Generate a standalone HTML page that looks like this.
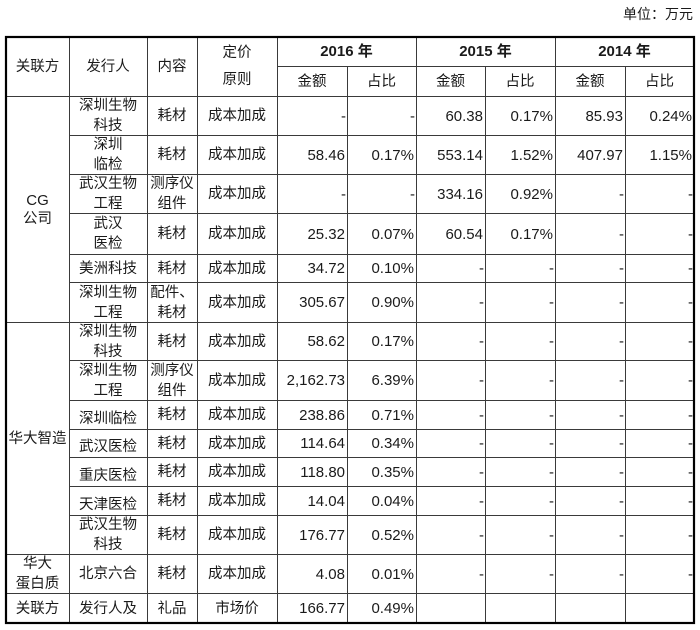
<!DOCTYPE html>
<html><head><meta charset="utf-8">
<style>
html,body{margin:0;padding:0;background:#fff;}
#w{position:relative;width:700px;height:630px;overflow:hidden;background:#fff;font-family:"Liberation Sans","Noto Sans CJK SC",sans-serif;color:#1a1a1a;}
.c{position:absolute;display:flex;align-items:center;justify-content:center;text-align:center;line-height:20px;font-size:14.5px;box-sizing:border-box;padding-top:1px;white-space:nowrap;}
.n{justify-content:flex-end;padding-right:2px;font-size:15px;padding-top:2px;}
.d{justify-content:flex-end;padding-right:1px;font-size:15px;padding-top:2px;}
.b{font-weight:bold;font-size:15px;}
.lo{padding-top:8px;}
svg{position:absolute;left:0;top:0;}
</style></head><body><div id="w">
<div class="c" style="left:600px;top:3px;width:93px;height:20px;justify-content:flex-end;font-size:14px;">单位：万元</div>

<svg width="700" height="630">
<g stroke="#3a3a3a" stroke-width="1" fill="none">
<line x1="69.5" y1="37" x2="69.5" y2="623"/>
<line x1="147.5" y1="37" x2="147.5" y2="623"/>
<line x1="197.5" y1="37" x2="197.5" y2="623"/>
<line x1="277.5" y1="37" x2="277.5" y2="623"/>
<line x1="347.5" y1="66" x2="347.5" y2="623"/>
<line x1="416.5" y1="37" x2="416.5" y2="623"/>
<line x1="485.5" y1="66" x2="485.5" y2="623"/>
<line x1="555.5" y1="37" x2="555.5" y2="623"/>
<line x1="625.5" y1="66" x2="625.5" y2="623"/>
<line x1="277" y1="66.5" x2="694" y2="66.5"/>
<line x1="6" y1="96.5" x2="694" y2="96.5"/>
<line x1="69" y1="135.5" x2="694" y2="135.5"/>
<line x1="69" y1="174.5" x2="694" y2="174.5"/>
<line x1="69" y1="213.5" x2="694" y2="213.5"/>
<line x1="69" y1="254.5" x2="694" y2="254.5"/>
<line x1="69" y1="282.5" x2="694" y2="282.5"/>
<line x1="6" y1="322.5" x2="694" y2="322.5"/>
<line x1="69" y1="360.5" x2="694" y2="360.5"/>
<line x1="69" y1="400.5" x2="694" y2="400.5"/>
<line x1="69" y1="429.5" x2="694" y2="429.5"/>
<line x1="69" y1="457.5" x2="694" y2="457.5"/>
<line x1="69" y1="486.5" x2="694" y2="486.5"/>
<line x1="69" y1="515.5" x2="694" y2="515.5"/>
<line x1="6" y1="554.5" x2="694" y2="554.5"/>
<line x1="6" y1="593.5" x2="694" y2="593.5"/>
</g>
<rect x="6" y="37" width="688" height="586" stroke="#000" stroke-width="2.2" fill="none"/>
</svg>

<!-- header -->
<div class="c" style="left:6px;top:37px;width:63px;height:59px;">关联方</div>
<div class="c" style="left:69px;top:37px;width:78px;height:59px;">发行人</div>
<div class="c" style="left:147px;top:37px;width:50px;height:59px;">内容</div>
<div class="c" style="left:197px;top:37px;width:80px;height:59px;line-height:27px;">定价<br>原则</div>
<div class="c b" style="left:277px;top:37px;width:139px;height:29px;">2016 年</div>
<div class="c b" style="left:416px;top:37px;width:139px;height:29px;">2015 年</div>
<div class="c b" style="left:555px;top:37px;width:139px;height:29px;">2014 年</div>
<div class="c" style="left:277px;top:66px;width:70px;height:30px;">金额</div>
<div class="c" style="left:347px;top:66px;width:69px;height:30px;">占比</div>
<div class="c" style="left:416px;top:66px;width:69px;height:30px;">金额</div>
<div class="c" style="left:485px;top:66px;width:70px;height:30px;">占比</div>
<div class="c" style="left:555px;top:66px;width:70px;height:30px;">金额</div>
<div class="c" style="left:625px;top:66px;width:69px;height:30px;">占比</div>

<!-- group labels -->
<div class="c" style="left:6px;top:96px;width:63px;height:226px;line-height:18px;"><span><span style="font-size:15px;">CG</span><br>公司</span></div>
<div class="c" style="left:6px;top:322px;width:63px;height:232px;">华大智造</div>
<div class="c" style="left:6px;top:554px;width:63px;height:39px;">华大<br>蛋白质</div>
<div class="c" style="left:6px;top:593px;width:63px;height:30px;">关联方</div>

<!-- r0 96-135 -->
<div class="c" style="left:69px;top:96px;width:78px;height:39px;">深圳生物<br>科技</div>
<div class="c" style="left:147px;top:96px;width:50px;height:39px;">耗材</div>
<div class="c" style="left:197px;top:96px;width:80px;height:39px;">成本加成</div>
<div class="c d" style="left:277px;top:96px;width:70px;height:39px;">-</div>
<div class="c d" style="left:347px;top:96px;width:69px;height:39px;">-</div>
<div class="c n" style="left:416px;top:96px;width:69px;height:39px;">60.38</div>
<div class="c n" style="left:485px;top:96px;width:70px;height:39px;">0.17%</div>
<div class="c n" style="left:555px;top:96px;width:70px;height:39px;">85.93</div>
<div class="c n" style="left:625px;top:96px;width:69px;height:39px;">0.24%</div>

<!-- r1 135-174 -->
<div class="c" style="left:69px;top:135px;width:78px;height:39px;">深圳<br>临检</div>
<div class="c" style="left:147px;top:135px;width:50px;height:39px;">耗材</div>
<div class="c" style="left:197px;top:135px;width:80px;height:39px;">成本加成</div>
<div class="c n" style="left:277px;top:135px;width:70px;height:39px;">58.46</div>
<div class="c n" style="left:347px;top:135px;width:69px;height:39px;">0.17%</div>
<div class="c n" style="left:416px;top:135px;width:69px;height:39px;">553.14</div>
<div class="c n" style="left:485px;top:135px;width:70px;height:39px;">1.52%</div>
<div class="c n" style="left:555px;top:135px;width:70px;height:39px;">407.97</div>
<div class="c n" style="left:625px;top:135px;width:69px;height:39px;">1.15%</div>

<!-- r2 174-213 -->
<div class="c" style="left:69px;top:174px;width:78px;height:39px;">武汉生物<br>工程</div>
<div class="c" style="left:147px;top:174px;width:50px;height:39px;">测序仪<br>组件</div>
<div class="c" style="left:197px;top:174px;width:80px;height:39px;">成本加成</div>
<div class="c d" style="left:277px;top:174px;width:70px;height:39px;">-</div>
<div class="c d" style="left:347px;top:174px;width:69px;height:39px;">-</div>
<div class="c n" style="left:416px;top:174px;width:69px;height:39px;">334.16</div>
<div class="c n" style="left:485px;top:174px;width:70px;height:39px;">0.92%</div>
<div class="c d" style="left:555px;top:174px;width:70px;height:39px;">-</div>
<div class="c d" style="left:625px;top:174px;width:69px;height:39px;">-</div>

<!-- r3 213-254 -->
<div class="c" style="left:69px;top:213px;width:78px;height:41px;">武汉<br>医检</div>
<div class="c" style="left:147px;top:213px;width:50px;height:41px;">耗材</div>
<div class="c" style="left:197px;top:213px;width:80px;height:41px;">成本加成</div>
<div class="c n" style="left:277px;top:213px;width:70px;height:41px;">25.32</div>
<div class="c n" style="left:347px;top:213px;width:69px;height:41px;">0.07%</div>
<div class="c n" style="left:416px;top:213px;width:69px;height:41px;">60.54</div>
<div class="c n" style="left:485px;top:213px;width:70px;height:41px;">0.17%</div>
<div class="c d" style="left:555px;top:213px;width:70px;height:41px;">-</div>
<div class="c d" style="left:625px;top:213px;width:69px;height:41px;">-</div>

<!-- r4 254-282 -->
<div class="c" style="left:69px;top:254px;width:78px;height:28px;">美洲科技</div>
<div class="c" style="left:147px;top:254px;width:50px;height:28px;">耗材</div>
<div class="c" style="left:197px;top:254px;width:80px;height:28px;">成本加成</div>
<div class="c n" style="left:277px;top:254px;width:70px;height:28px;">34.72</div>
<div class="c n" style="left:347px;top:254px;width:69px;height:28px;">0.10%</div>
<div class="c d" style="left:416px;top:254px;width:69px;height:28px;">-</div>
<div class="c d" style="left:485px;top:254px;width:70px;height:28px;">-</div>
<div class="c d" style="left:555px;top:254px;width:70px;height:28px;">-</div>
<div class="c d" style="left:625px;top:254px;width:69px;height:28px;">-</div>

<!-- r5 282-322 -->
<div class="c" style="left:69px;top:282px;width:78px;height:40px;">深圳生物<br>工程</div>
<div class="c" style="left:147px;top:282px;width:50px;height:40px;">配件、<br>耗材</div>
<div class="c" style="left:197px;top:282px;width:80px;height:40px;">成本加成</div>
<div class="c n" style="left:277px;top:282px;width:70px;height:40px;">305.67</div>
<div class="c n" style="left:347px;top:282px;width:69px;height:40px;">0.90%</div>
<div class="c d" style="left:416px;top:282px;width:69px;height:40px;">-</div>
<div class="c d" style="left:485px;top:282px;width:70px;height:40px;">-</div>
<div class="c d" style="left:555px;top:282px;width:70px;height:40px;">-</div>
<div class="c d" style="left:625px;top:282px;width:69px;height:40px;">-</div>

<!-- r6 322-360 -->
<div class="c" style="left:69px;top:322px;width:78px;height:38px;">深圳生物<br>科技</div>
<div class="c" style="left:147px;top:322px;width:50px;height:38px;">耗材</div>
<div class="c" style="left:197px;top:322px;width:80px;height:38px;">成本加成</div>
<div class="c n" style="left:277px;top:322px;width:70px;height:38px;">58.62</div>
<div class="c n" style="left:347px;top:322px;width:69px;height:38px;">0.17%</div>
<div class="c d" style="left:416px;top:322px;width:69px;height:38px;">-</div>
<div class="c d" style="left:485px;top:322px;width:70px;height:38px;">-</div>
<div class="c d" style="left:555px;top:322px;width:70px;height:38px;">-</div>
<div class="c d" style="left:625px;top:322px;width:69px;height:38px;">-</div>

<!-- r7 360-400 -->
<div class="c" style="left:69px;top:360px;width:78px;height:40px;">深圳生物<br>工程</div>
<div class="c" style="left:147px;top:360px;width:50px;height:40px;">测序仪<br>组件</div>
<div class="c" style="left:197px;top:360px;width:80px;height:40px;">成本加成</div>
<div class="c n" style="left:277px;top:360px;width:70px;height:40px;">2,162.73</div>
<div class="c n" style="left:347px;top:360px;width:69px;height:40px;">6.39%</div>
<div class="c d" style="left:416px;top:360px;width:69px;height:40px;">-</div>
<div class="c d" style="left:485px;top:360px;width:70px;height:40px;">-</div>
<div class="c d" style="left:555px;top:360px;width:70px;height:40px;">-</div>
<div class="c d" style="left:625px;top:360px;width:69px;height:40px;">-</div>

<!-- r8 400-429 -->
<div class="c lo" style="left:69px;top:400px;width:78px;height:29px;">深圳临检</div>
<div class="c" style="left:147px;top:400px;width:50px;height:29px;">耗材</div>
<div class="c" style="left:197px;top:400px;width:80px;height:29px;">成本加成</div>
<div class="c n" style="left:277px;top:400px;width:70px;height:29px;">238.86</div>
<div class="c n" style="left:347px;top:400px;width:69px;height:29px;">0.71%</div>
<div class="c d" style="left:416px;top:400px;width:69px;height:29px;">-</div>
<div class="c d" style="left:485px;top:400px;width:70px;height:29px;">-</div>
<div class="c d" style="left:555px;top:400px;width:70px;height:29px;">-</div>
<div class="c d" style="left:625px;top:400px;width:69px;height:29px;">-</div>

<!-- r9 429-457 -->
<div class="c lo" style="left:69px;top:429px;width:78px;height:28px;">武汉医检</div>
<div class="c" style="left:147px;top:429px;width:50px;height:28px;">耗材</div>
<div class="c" style="left:197px;top:429px;width:80px;height:28px;">成本加成</div>
<div class="c n" style="left:277px;top:429px;width:70px;height:28px;">114.64</div>
<div class="c n" style="left:347px;top:429px;width:69px;height:28px;">0.34%</div>
<div class="c d" style="left:416px;top:429px;width:69px;height:28px;">-</div>
<div class="c d" style="left:485px;top:429px;width:70px;height:28px;">-</div>
<div class="c d" style="left:555px;top:429px;width:70px;height:28px;">-</div>
<div class="c d" style="left:625px;top:429px;width:69px;height:28px;">-</div>

<!-- r10 457-486 -->
<div class="c lo" style="left:69px;top:457px;width:78px;height:29px;">重庆医检</div>
<div class="c" style="left:147px;top:457px;width:50px;height:29px;">耗材</div>
<div class="c" style="left:197px;top:457px;width:80px;height:29px;">成本加成</div>
<div class="c n" style="left:277px;top:457px;width:70px;height:29px;">118.80</div>
<div class="c n" style="left:347px;top:457px;width:69px;height:29px;">0.35%</div>
<div class="c d" style="left:416px;top:457px;width:69px;height:29px;">-</div>
<div class="c d" style="left:485px;top:457px;width:70px;height:29px;">-</div>
<div class="c d" style="left:555px;top:457px;width:70px;height:29px;">-</div>
<div class="c d" style="left:625px;top:457px;width:69px;height:29px;">-</div>

<!-- r11 486-515 -->
<div class="c lo" style="left:69px;top:486px;width:78px;height:29px;">天津医检</div>
<div class="c" style="left:147px;top:486px;width:50px;height:29px;">耗材</div>
<div class="c" style="left:197px;top:486px;width:80px;height:29px;">成本加成</div>
<div class="c n" style="left:277px;top:486px;width:70px;height:29px;">14.04</div>
<div class="c n" style="left:347px;top:486px;width:69px;height:29px;">0.04%</div>
<div class="c d" style="left:416px;top:486px;width:69px;height:29px;">-</div>
<div class="c d" style="left:485px;top:486px;width:70px;height:29px;">-</div>
<div class="c d" style="left:555px;top:486px;width:70px;height:29px;">-</div>
<div class="c d" style="left:625px;top:486px;width:69px;height:29px;">-</div>

<!-- r12 515-554 -->
<div class="c" style="left:69px;top:515px;width:78px;height:39px;">武汉生物<br>科技</div>
<div class="c" style="left:147px;top:515px;width:50px;height:39px;">耗材</div>
<div class="c" style="left:197px;top:515px;width:80px;height:39px;">成本加成</div>
<div class="c n" style="left:277px;top:515px;width:70px;height:39px;">176.77</div>
<div class="c n" style="left:347px;top:515px;width:69px;height:39px;">0.52%</div>
<div class="c d" style="left:416px;top:515px;width:69px;height:39px;">-</div>
<div class="c d" style="left:485px;top:515px;width:70px;height:39px;">-</div>
<div class="c d" style="left:555px;top:515px;width:70px;height:39px;">-</div>
<div class="c d" style="left:625px;top:515px;width:69px;height:39px;">-</div>

<!-- r13 554-593 -->
<div class="c" style="left:69px;top:554px;width:78px;height:39px;">北京六合</div>
<div class="c" style="left:147px;top:554px;width:50px;height:39px;">耗材</div>
<div class="c" style="left:197px;top:554px;width:80px;height:39px;">成本加成</div>
<div class="c n" style="left:277px;top:554px;width:70px;height:39px;">4.08</div>
<div class="c n" style="left:347px;top:554px;width:69px;height:39px;">0.01%</div>
<div class="c d" style="left:416px;top:554px;width:69px;height:39px;">-</div>
<div class="c d" style="left:485px;top:554px;width:70px;height:39px;">-</div>
<div class="c d" style="left:555px;top:554px;width:70px;height:39px;">-</div>
<div class="c d" style="left:625px;top:554px;width:69px;height:39px;">-</div>

<!-- r14 593-623 -->
<div class="c" style="left:69px;top:593px;width:78px;height:30px;">发行人及</div>
<div class="c" style="left:147px;top:593px;width:50px;height:30px;">礼品</div>
<div class="c" style="left:197px;top:593px;width:80px;height:30px;">市场价</div>
<div class="c n" style="left:277px;top:593px;width:70px;height:30px;">166.77</div>
<div class="c n" style="left:347px;top:593px;width:69px;height:30px;">0.49%</div>

</div></body></html>
